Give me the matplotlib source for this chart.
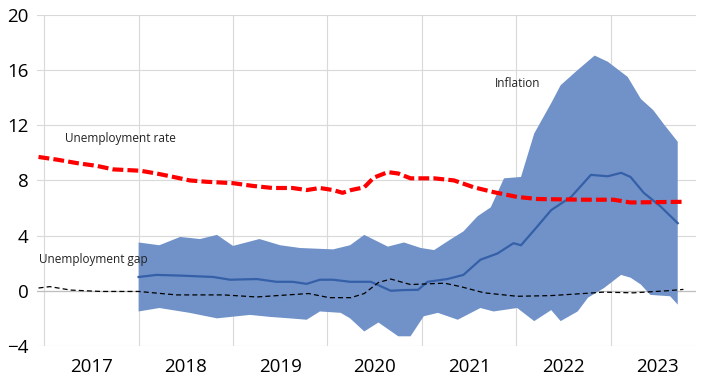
import matplotlib.pyplot as plt

# unemployment rate (red dashed)
ur_x = [2016.94, 2017.14, 2017.35, 2017.56, 2017.73, 2018.02, 2018.19, 2018.37, 2018.54, 2018.72,
        2019.0, 2019.21, 2019.42, 2019.63, 2019.78, 2019.92, 2020.06, 2020.16, 2020.25, 2020.39,
        2020.49, 2020.64, 2020.75, 2020.88, 2021.13, 2021.34, 2021.55, 2021.76, 2022.01, 2022.23,
        2022.71, 2023.03, 2023.21, 2023.77]
ur_y = [9.7, 9.5, 9.25, 9.05, 8.8, 8.7, 8.5, 8.25, 8.0, 7.9,
        7.8, 7.6, 7.45, 7.45, 7.3, 7.45, 7.3, 7.1, 7.3, 7.5,
        8.2, 8.6, 8.5, 8.15, 8.15, 8.0, 7.5, 7.15, 6.8, 6.65,
        6.6, 6.6, 6.4, 6.45]

# inflation median
inf_x = [2018.0, 2018.19, 2018.44, 2018.79, 2018.97, 2019.25, 2019.46, 2019.63, 2019.78, 2019.92,
         2020.06, 2020.24, 2020.46, 2020.67, 2020.81, 2020.96, 2021.06, 2021.27, 2021.44, 2021.62,
         2021.80, 2021.97, 2022.05, 2022.19, 2022.37, 2022.58, 2022.79, 2022.97, 2023.11, 2023.21,
         2023.35, 2023.53, 2023.71]
inf_y = [1.0, 1.15, 1.1, 1.0, 0.8, 0.85, 0.65, 0.65, 0.5, 0.8,
         0.8, 0.65, 0.65, 0.0, 0.05, 0.07, 0.65, 0.85, 1.15, 2.25,
         2.7, 3.45, 3.3, 4.4, 5.85, 6.8, 8.4, 8.3, 8.55, 8.25,
         7.1, 6.1, 4.9]

# inflation band, upper and lower edge
up_x = [2018.0, 2018.22, 2018.44, 2018.65, 2018.83, 2019.0, 2019.28, 2019.5, 2019.71, 2020.06,
        2020.24, 2020.39, 2020.64, 2020.81, 2020.99, 2021.13, 2021.31, 2021.44, 2021.59, 2021.73,
        2021.87, 2022.05, 2022.19, 2022.37, 2022.47, 2022.65, 2022.83, 2022.97, 2023.18, 2023.32,
        2023.45, 2023.56, 2023.71]
up_y = [3.5, 3.3, 3.9, 3.75, 4.05, 3.25, 3.75, 3.3, 3.1, 3.0,
        3.3, 4.05, 3.2, 3.5, 3.1, 2.95, 3.75, 4.3, 5.4, 6.05,
        8.15, 8.25, 11.4, 13.6, 14.9, 16.0, 17.05, 16.6, 15.5, 13.9,
        13.1, 12.1, 10.8]
lo_x = [2018.0, 2018.22, 2018.54, 2018.83, 2019.18, 2019.4, 2019.6, 2019.78, 2019.92, 2020.14,
        2020.24, 2020.39, 2020.54, 2020.75, 2020.88, 2021.02, 2021.17, 2021.38, 2021.62, 2021.76,
        2022.01, 2022.19, 2022.37, 2022.47, 2022.65, 2022.76, 2022.93, 2023.11, 2023.21, 2023.32,
        2023.42, 2023.63, 2023.71]
lo_y = [-1.5, -1.25, -1.6, -2.0, -1.75, -1.9, -2.0, -2.1, -1.5, -1.6,
        -2.0, -2.95, -2.3, -3.3, -3.3, -1.85, -1.6, -2.1, -1.25, -1.5,
        -1.25, -2.2, -1.4, -2.2, -1.5, -0.5, 0.2, 1.15, 0.95, 0.45,
        -0.3, -0.4, -1.0]

# unemployment gap
gap_x = [2016.94, 2017.06, 2017.28, 2017.6, 2018.0, 2018.4, 2018.9, 2019.25, 2019.8, 2020.02,
         2020.25, 2020.39, 2020.54, 2020.67, 2020.88, 2021.24, 2021.41, 2021.66, 2022.01, 2022.37,
         2022.71, 2022.92, 2023.24, 2023.6, 2023.77]
gap_y = [0.2, 0.3, 0.05, -0.05, -0.05, -0.3, -0.3, -0.45, -0.2, -0.5,
         -0.5, -0.2, 0.6, 0.85, 0.45, 0.55, 0.3, -0.15, -0.4, -0.35,
         -0.2, -0.1, -0.15, 0.0, 0.1]

years = [2017, 2018, 2019, 2020, 2021, 2022, 2023]

plt.rcParams['font.family'] = ['Open Sans', 'DejaVu Sans']

fig = plt.figure(figsize=(7.02, 3.81), dpi=100)
ax = fig.add_axes([0.053, 0.092, 0.938, 0.869])

# band: closed polygon from upper and lower edges
ax.fill(up_x + lo_x[::-1], up_y + lo_y[::-1], color='#7092c8', lw=0, zorder=2)

ax.plot(inf_x, inf_y, color='#3560a8', lw=1.6, zorder=3)
ax.plot(ur_x, ur_y, color='#ff0000', lw=3, dashes=(2.6, 1.0), zorder=4)
ax.plot(gap_x, gap_y, color='black', lw=0.9, dashes=(4, 2.5), zorder=4)

ax.set_xlim(2016.926, 2023.9)
ax.set_ylim(-4, 20)
ax.set_yticks([-4, 0, 4, 8, 12, 16, 20])
ax.set_xticks(years)
ax.set_xticks([y + 0.5 for y in years], minor=True)
ax.set_xticklabels([])
ax.set_xticklabels([str(y) for y in years], minor=True)
ax.tick_params(axis='x', which='both', length=0, labelsize=13.5, pad=9)
ax.tick_params(axis='y', length=0, labelsize=13.5, pad=6)
ax.grid(True, which='major', color='#d9d9d9', lw=0.8, zorder=0)
ax.axhline(0, color='#bfbfbf', lw=0.9, zorder=1)
for s in ax.spines.values():
    s.set_visible(False)
ax.set_axisbelow(True)

ax.text(2017.22, 11.05, 'Unemployment rate', fontsize=8.5, color='#222222', va='center')
ax.text(2016.94, 2.3, 'Unemployment gap', fontsize=8.5, color='#222222', va='center')
ax.text(2021.77, 15.0, 'Inflation', fontsize=8.5, color='#222222', va='center')

fig.savefig('out.png', dpi=100)
